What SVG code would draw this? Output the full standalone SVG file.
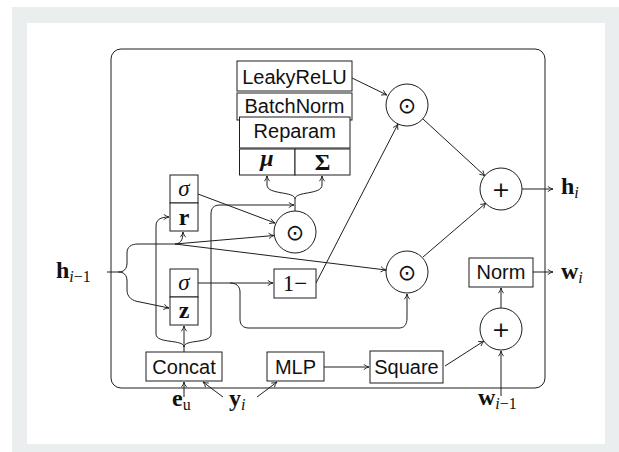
<svg xmlns="http://www.w3.org/2000/svg" width="619" height="452" viewBox="0 0 619 452">
<defs>
<style>
.ln{fill:none;stroke:#1e1e1e;stroke-width:1}
.bx{fill:#fff;stroke:#1e1e1e;stroke-width:1}
.ci{fill:#fff;stroke:#1e1e1e;stroke-width:1}
.sans{font-family:"Liberation Sans",Arial,sans-serif;font-size:20px;fill:#111;text-anchor:middle}
.m{font-family:"Liberation Serif","Times New Roman",serif;font-size:23px;fill:#111}
.mb{font-family:"Liberation Serif","Times New Roman",serif;font-size:24px;font-weight:bold;fill:#111}
.sub{font-size:16px;font-weight:normal}
.op{font-family:"DejaVu Sans",sans-serif;font-size:22px;fill:#111;text-anchor:middle}
</style>
<marker id="ar" viewBox="0 0 8 8" refX="7.5" refY="4" markerWidth="7" markerHeight="7" markerUnits="userSpaceOnUse" orient="auto">
<path d="M1.5,1 Q4.5,3.3 7.5,4 Q4.5,4.7 1.5,7" fill="none" stroke="#1e1e1e" stroke-width="1"/>
</marker>
</defs>
<rect x="0" y="0" width="619" height="452" fill="#ffffff"/>
<rect x="12" y="7" width="607" height="445" fill="#eaeeef"/>
<rect x="27" y="23" width="578" height="421" fill="#ffffff"/>
<rect x="111" y="49" width="434" height="339" rx="10" class="ln"/>

<g id="connectors">
<path class="ln" marker-end="url(#ar)" d="M107,272 H118 C124,272 127,269 127,263 V253 C127,247 131,244 138,244 H174 C180,244 183,241 183,232"/>
<path class="ln" marker-end="url(#ar)" d="M118,272 C124,272 127,275 127,281 V290 C127,297 132,301 140,302 L169,308"/>
<path class="ln" marker-end="url(#ar)" d="M175,244 L274,235.5"/>
<path class="ln" marker-end="url(#ar)" d="M175,244 L386,270"/>
<path class="ln" marker-end="url(#ar)" d="M198,194 L275,223"/>
<path class="ln" marker-end="url(#ar)" d="M295,211 V199 C295,191 267,195 267,185 V176"/>
<path class="ln" marker-end="url(#ar)" d="M295,199 C295,191 322,195 322,185 V176"/>
<path class="ln" marker-end="url(#ar)" d="M184,352 V347 C184,339 156,344 156,334 V226 C156,220 160,217 169,217"/>
<path class="ln" marker-end="url(#ar)" d="M184,347 C184,339 211,344 211,334 V214 C211,208 214,205 220,205 H294"/>
<path class="ln" marker-end="url(#ar)" d="M184,347 V326"/>
<path class="ln" marker-end="url(#ar)" d="M198,283 H273"/>
<path class="ln" marker-end="url(#ar)" d="M230,283 C236,283 240,286 240,292 V319 C240,325 243,328 249,328 H399 C404,328 407,325 407,318 V294"/>
<path class="ln" marker-end="url(#ar)" d="M316,283 L398,124"/>
<path class="ln" marker-end="url(#ar)" d="M352,78 L387,95"/>
<path class="ln" marker-end="url(#ar)" d="M423,119 L485,176"/>
<path class="ln" marker-end="url(#ar)" d="M423,257 L486,203"/>
<path class="ln" marker-end="url(#ar)" d="M522,189 H553"/>
<path class="ln" marker-end="url(#ar)" d="M184,397 V382"/>
<path class="ln" marker-end="url(#ar)" d="M223,397 L203,382"/>
<path class="ln" marker-end="url(#ar)" d="M257,397 L277,382"/>
<path class="ln" marker-end="url(#ar)" d="M324,367 H369"/>
<path class="ln" marker-end="url(#ar)" d="M445,366 L484,341"/>
<path class="ln" marker-end="url(#ar)" d="M501,396 V351"/>
<path class="ln" marker-end="url(#ar)" d="M501,308 V288"/>
<path class="ln" marker-end="url(#ar)" d="M533,272 H553"/>
</g>

<g id="leakyrelu"><rect class="bx" x="237" y="61" width="115" height="30"/><text class="sans" x="294.5" y="84">LeakyReLU</text></g>
<g id="batchnorm"><rect class="bx" x="237" y="93" width="115" height="27"/><text class="sans" x="294.5" y="113">BatchNorm</text></g>
<g id="reparam"><rect class="bx" x="239.5" y="117" width="110.5" height="31"/><text class="sans" x="294.75" y="138">Reparam</text></g>
<g id="mu"><rect class="bx" x="239.5" y="149" width="55.5" height="26"/><text class="mb" x="267" y="166" text-anchor="middle" font-style="italic" font-size="22">μ</text></g>
<g id="sigma-cap"><rect class="bx" x="295" y="149" width="55" height="26"/><text class="mb" x="322.5" y="170" text-anchor="middle" font-size="22">Σ</text></g>

<g id="sigma-r"><rect class="bx" x="170" y="175" width="28" height="28"/><text class="m" x="184" y="196" text-anchor="middle" font-style="italic">σ</text></g>
<g id="r"><rect class="bx" x="170" y="203" width="28" height="28"/><text class="mb" x="184" y="225" text-anchor="middle" font-size="23">r</text></g>
<g id="sigma-z"><rect class="bx" x="170" y="269" width="28" height="28"/><text class="m" x="184" y="290" text-anchor="middle" font-style="italic">σ</text></g>
<g id="z"><rect class="bx" x="170" y="297" width="28" height="28"/><text class="mb" x="184" y="318" text-anchor="middle" font-size="23">z</text></g>
<g id="one-minus"><rect class="bx" x="274" y="269" width="42" height="29"/><text class="m" x="295" y="291" text-anchor="middle" font-size="24">1−</text></g>

<g id="concat"><rect class="bx" x="146" y="352" width="76" height="29"/><text class="sans" x="184" y="374">Concat</text></g>
<g id="mlp"><rect class="bx" x="267" y="352" width="57" height="29"/><text class="sans" x="295.5" y="374">MLP</text></g>
<g id="square"><rect class="bx" x="370" y="351" width="73" height="32"/><text class="sans" x="406.5" y="374">Square</text></g>
<g id="norm"><rect class="bx" x="469" y="258" width="64" height="29"/><text class="sans" x="501" y="279">Norm</text></g>

<g id="odot-mid"><circle class="ci" cx="295" cy="232" r="21"/><text class="op" x="295" y="240">⊙</text></g>
<g id="odot-top"><circle class="ci" cx="407" cy="105" r="21"/><text class="op" x="407" y="113">⊙</text></g>
<g id="odot-right"><circle class="ci" cx="407" cy="272" r="21"/><text class="op" x="407" y="280">⊙</text></g>
<g id="plus-top"><circle class="ci" cx="501" cy="189" r="21"/><text class="op" x="501" y="197">+</text></g>
<g id="plus-bot"><circle class="ci" cx="501" cy="329" r="21"/><text class="op" x="501" y="337">+</text></g>

<g id="h-prev"><text class="mb" x="56" y="278">h<tspan class="sub" font-style="italic" dy="4">i</tspan><tspan class="sub">−1</tspan></text></g>
<g id="h-i"><text class="mb" x="561" y="194">h<tspan class="sub" font-style="italic" dy="4">i</tspan></text></g>
<g id="w-i"><text class="mb" x="561" y="279">w<tspan class="sub" font-style="italic" dy="4">i</tspan></text></g>
<g id="w-prev"><text class="mb" x="478" y="405">w<tspan class="sub" font-style="italic" dy="4">i</tspan><tspan class="sub">−1</tspan></text></g>
<g id="e-u"><text class="mb" x="172" y="406">e<tspan class="sub" font-weight="bold" dy="4">u</tspan></text></g>
<g id="y-i"><text class="mb" x="229" y="406">y<tspan class="sub" font-style="italic" dy="4">i</tspan></text></g>
</svg>
